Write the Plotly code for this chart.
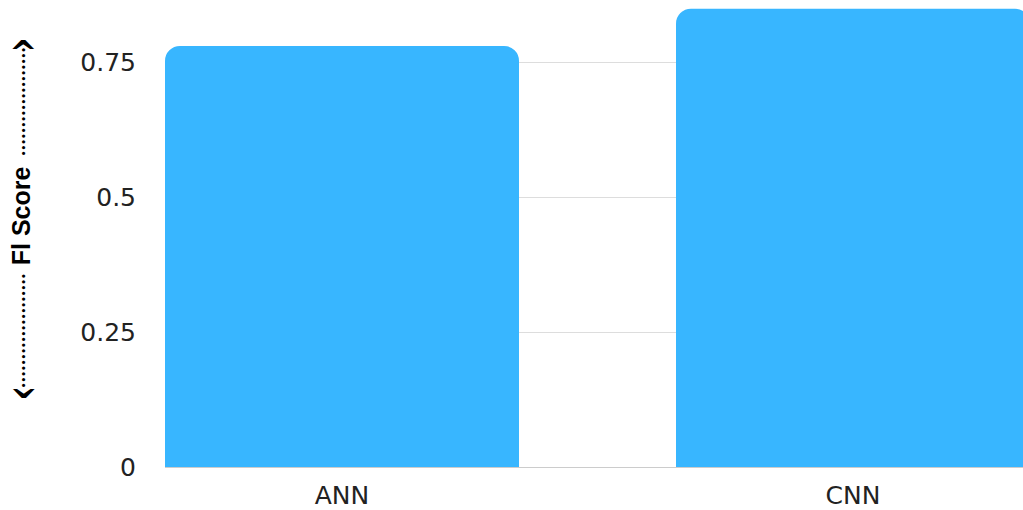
import plotly.graph_objects as go

categories = ["ANN", "CNN"]
f1_scores = [0.78, 0.849]
y_ticks = [0, 0.25, 0.5, 0.75]
y_tick_labels = ["0", "0.25", "0.5", "0.75"]
y_title = "Fl Score"

W, H = 1023, 510
left, bottom = 165, 37
plot_w = W - left
plot_h = H - bottom
band_px = 511.0
bar_w = 354.0 / band_px
x0 = -bar_w / 2
x1 = x0 + plot_w / band_px
ymax = plot_h / 546.8


def px(x):
    return (x - left) / plot_w


def py(y):
    return 1 - y / plot_h


fig = go.Figure(go.Bar(
    x=categories, y=f1_scores, width=bar_w,
    marker=dict(color="#38b6ff", line=dict(width=0)),
    hoverinfo="skip",
))

bold = dict(family="DejaVu Sans, sans-serif", color="#000000", weight="bold")
annos = [
    # title text
    dict(text=y_title, textangle=-90, x=px(21), y=py(219),
         font=dict(family="Liberation Sans, Arial, sans-serif", size=25, color="#000000", weight="bold")),
    # upper dotted shaft
    dict(text="\u2022" * 19, textangle=-90, x=px(23.5), y=py(103), font=dict(size=9, **bold)),
    # lower dotted shaft
    dict(text="\u2022" * 20, textangle=-90, x=px(23.5), y=py(335), font=dict(size=9, **bold)),
    # arrow heads
    dict(text="^", textangle=0, x=px(23.5), y=py(54), font=dict(size=34, **bold)),
    dict(text="^", textangle=180, x=px(23.5), y=py(390), font=dict(size=34, **bold)),
]
for a in annos:
    a.update(showarrow=False, xref="paper", yref="paper", xanchor="center", yanchor="middle")

fig.update_layout(
    width=W, height=H,
    margin=dict(l=left, r=0, t=0, b=bottom, pad=0),
    paper_bgcolor="white", plot_bgcolor="white",
    barcornerradius=15,
    showlegend=False,
    font=dict(family="DejaVu Sans, Arial, sans-serif", color="#222222", size=25),
    xaxis=dict(
        range=[x0, x1], showgrid=False, showline=True, linecolor="#cccccc",
        linewidth=1, ticks="", ticklabelstandoff=6,
        tickfont=dict(size=25, color="#222222"),
        fixedrange=True,
    ),
    yaxis=dict(
        range=[0, ymax], tickvals=y_ticks, ticktext=y_tick_labels,
        showgrid=True, gridcolor="#dddddd", gridwidth=1, zeroline=False,
        showline=False, ticks="", ticklabelstandoff=28,
        tickfont=dict(size=25, color="#222222"),
        fixedrange=True,
    ),
    annotations=annos,
)

fig.write_html("out.html", config={"displayModeBar": False})
